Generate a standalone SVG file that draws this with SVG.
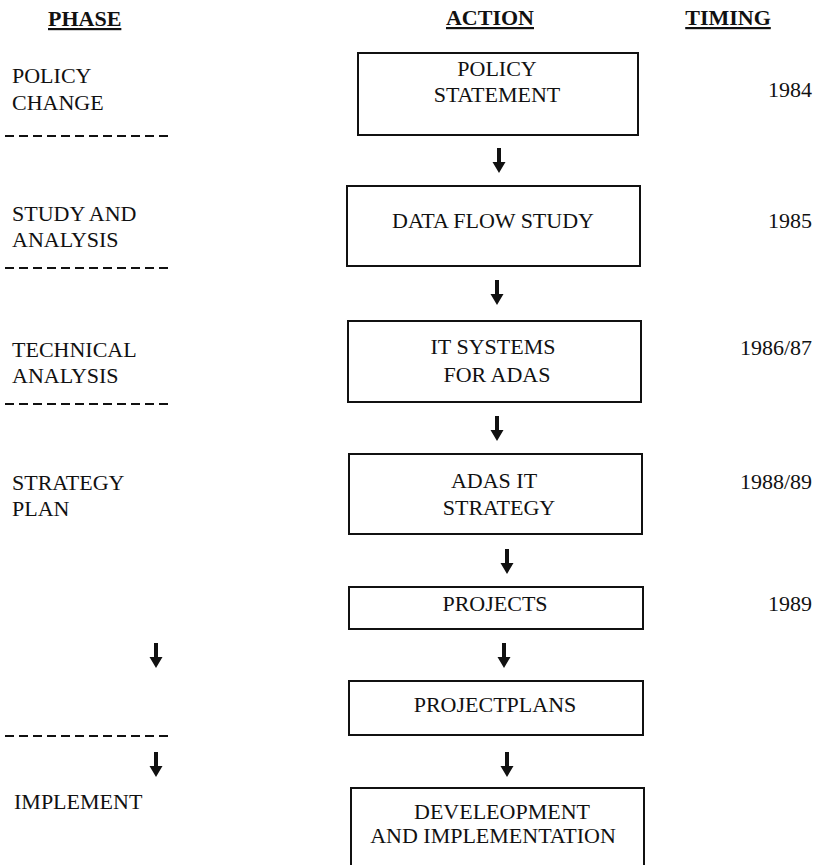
<svg xmlns="http://www.w3.org/2000/svg" width="821" height="865" viewBox="0 0 821 865">
<style>
  text { font-family: "Liberation Serif", "Times New Roman", serif; font-size: 22px; fill: #111; }
  .hdr { font-weight: bold; text-decoration: underline; }
  .c { text-anchor: middle; }
  .r { text-anchor: end; }
  .box { fill: #fff; stroke: #111; stroke-width: 2; }
  .dash { stroke: #111; stroke-width: 2; stroke-dasharray: 9 5; fill: none; }
  .arrow { fill: #111; }
</style>
<defs>
  <path id="arr" d="M -2 0 L 2 0 L 2 14 L 6.5 14 L 0 25 L -6.5 14 L -2 14 Z"/>
</defs>
<rect width="821" height="865" fill="#fff"/>

<g id="headers">
  <text class="hdr" x="48" y="26">PHASE</text>
  <text class="hdr c" x="490" y="25">ACTION</text>
  <text class="hdr c" x="728" y="25">TIMING</text>
</g>

<g id="phases">
  <text x="12" y="83">POLICY</text>
  <text x="12" y="110">CHANGE</text>
  <text x="12" y="221">STUDY AND</text>
  <text x="12" y="247">ANALYSIS</text>
  <text x="12" y="357">TECHNICAL</text>
  <text x="12" y="383">ANALYSIS</text>
  <text x="12" y="490">STRATEGY</text>
  <text x="12" y="516">PLAN</text>
  <text x="14" y="809">IMPLEMENT</text>
</g>

<g id="separators">
  <line class="dash" x1="5" y1="136" x2="172" y2="136"/>
  <line class="dash" x1="5" y1="268" x2="172" y2="268"/>
  <line class="dash" x1="5" y1="404" x2="172" y2="404"/>
  <line class="dash" x1="5" y1="736" x2="172" y2="736"/>
</g>

<g id="node-policy-statement">
  <rect class="box" x="358" y="53" width="280" height="82"/>
  <text class="c" x="497" y="76">POLICY</text>
  <text class="c" x="497" y="102">STATEMENT</text>
</g>
<g id="node-data-flow-study">
  <rect class="box" x="347" y="186" width="293" height="80"/>
  <text class="c" x="493" y="228">DATA FLOW STUDY</text>
</g>
<g id="node-it-systems">
  <rect class="box" x="348" y="321" width="293" height="81"/>
  <text class="c" x="493" y="354">IT SYSTEMS</text>
  <text class="c" x="497" y="382">FOR ADAS</text>
</g>
<g id="node-adas-it-strategy">
  <rect class="box" x="349" y="454" width="293" height="80"/>
  <text class="c" x="494" y="488">ADAS IT</text>
  <text class="c" x="499" y="515">STRATEGY</text>
</g>
<g id="node-projects">
  <rect class="box" x="349" y="587" width="294" height="42"/>
  <text class="c" x="495" y="611">PROJECTS</text>
</g>
<g id="node-projectplans">
  <rect class="box" x="349" y="681" width="294" height="54"/>
  <text class="c" x="495" y="712">PROJECTPLANS</text>
</g>
<g id="node-development">
  <rect class="box" x="351" y="788" width="293" height="85"/>
  <text class="c" x="502" y="819">DEVELEOPMENT</text>
  <text class="c" x="493" y="843">AND IMPLEMENTATION</text>
</g>

<g id="timing">
  <text class="r" x="812" y="97">1984</text>
  <text class="r" x="812" y="228">1985</text>
  <text class="r" x="812" y="355">1986/87</text>
  <text class="r" x="812" y="489">1988/89</text>
  <text class="r" x="812" y="611">1989</text>
</g>

<g id="connectors">
  <use href="#arr" class="arrow" x="499" y="148"/>
  <use href="#arr" class="arrow" x="497" y="280"/>
  <use href="#arr" class="arrow" x="497" y="416"/>
  <use href="#arr" class="arrow" x="507" y="549"/>
  <use href="#arr" class="arrow" x="504" y="643"/>
  <use href="#arr" class="arrow" x="507" y="752"/>
  <use href="#arr" class="arrow" x="156" y="643"/>
  <use href="#arr" class="arrow" x="156" y="752"/>
</g>
</svg>
